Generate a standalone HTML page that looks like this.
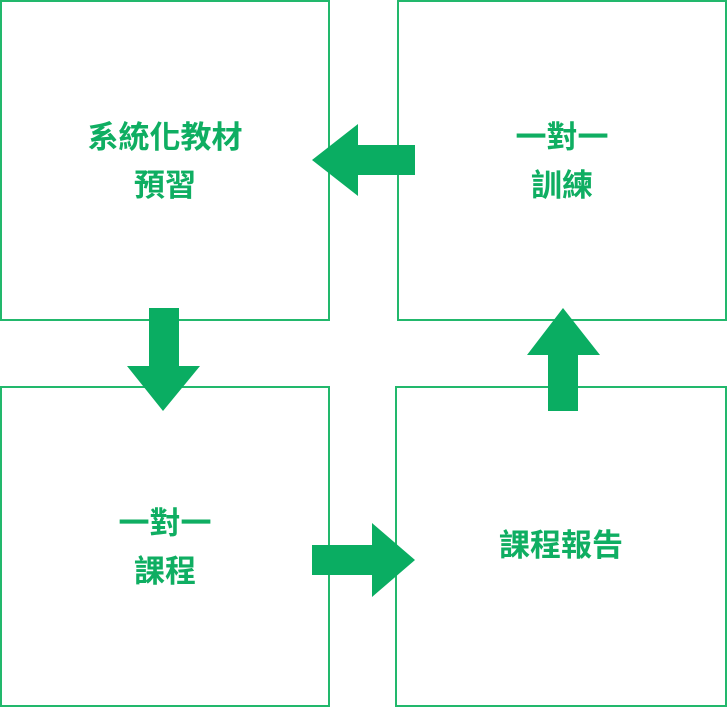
<!DOCTYPE html>
<html><head><meta charset="utf-8"><style>
body{margin:0;background:#fff;width:728px;height:708px;position:relative;overflow:hidden;}
.b{position:absolute;border:2px solid #22b86c;box-sizing:border-box;}
.t{position:absolute;text-align:center;color:#0fae62;font:bold 31px/48px "Liberation Sans","Noto Sans CJK TC",sans-serif;}
svg{position:absolute;left:0;top:0;}
</style></head><body>
<div class="b" style="left:0;top:0;width:330px;height:321px"></div>
<div class="b" style="left:397px;top:0;width:330px;height:321px"></div>
<div class="b" style="left:0;top:386px;width:330px;height:321px"></div>
<div class="b" style="left:395px;top:386px;width:332px;height:321px"></div>
<svg width="728" height="708">
<g fill="#0aad62">
<polygon points="312,160 358,124 358,145 415,145 415,175 358,175 358,196"/>
<polygon points="149,308 179,308 179,366 200,366 163,411 127,366 149,366"/>
<polygon points="312,545 372,545 372,523 415,560 372,597 372,575 312,575"/>
<polygon points="563,308 600,355 578,355 578,411 548,411 548,355 527,355"/>
</g></svg>
<div class="t" style="left:0;width:330px;top:114px">系統化教材<br>預習</div>
<div class="t" style="left:397px;width:330px;top:114px">一對一<br>訓練</div>
<div class="t" style="left:0;width:330px;top:500px">一對一<br>課程</div>
<div class="t" style="left:395px;width:332px;top:522px">課程報告</div>
</body></html>
